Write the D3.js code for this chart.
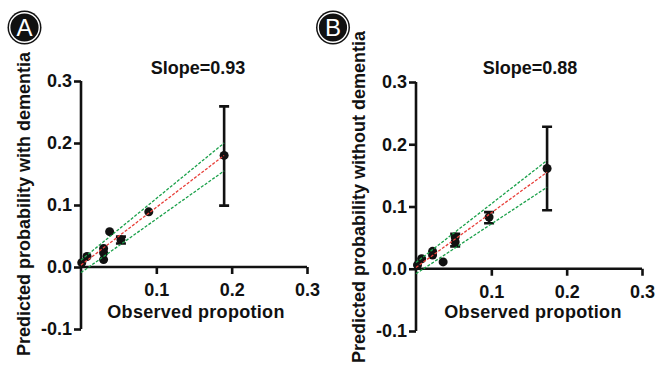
<!DOCTYPE html>
<html>
<head>
<meta charset="utf-8">
<script src="https://cdn.jsdelivr.net/npm/d3@7"></script>
<style>
  html, body { margin: 0; padding: 0; background: #fff; }
  svg { display: block; }
  text { font-family: Arial, "Liberation Sans", sans-serif; }
</style>
</head>
<body>
<svg id="chart" width="655" height="377"></svg>
<script>
// ---------------- data ----------------
const xTicks = [0.1, 0.2, 0.3];
const yTicks = [-0.1, 0.0, 0.1, 0.2, 0.3];

// Panel A: with dementia
const aObserved  = [0.001, 0.008, 0.030, 0.030, 0.030, 0.038, 0.053, 0.090, 0.190];
const aPredicted = [0.007, 0.017, 0.030, 0.023, 0.012, 0.057, 0.044, 0.089, 0.180];
const aLow       = [0.007, 0.017, 0.030, 0.023, 0.012, 0.057, 0.038, 0.089, 0.099];
const aHigh      = [0.007, 0.017, 0.030, 0.023, 0.012, 0.057, 0.049, 0.089, 0.259];
const aLineX     = [0, 0.19];
const aFit       = [0.003, 0.180];
const aUpper     = [0.011, 0.200];
const aLower     = [-0.009, 0.155];

// Panel B: without dementia
const bObserved  = [0.002, 0.0075, 0.022, 0.022, 0.036, 0.052, 0.052, 0.097, 0.174];
const bPredicted = [0.006, 0.016, 0.028, 0.022, 0.011, 0.051, 0.043, 0.083, 0.161];
const bLow       = [0.006, 0.016, 0.028, 0.022, 0.011, 0.036, 0.043, 0.073, 0.094];
const bHigh      = [0.006, 0.016, 0.028, 0.022, 0.011, 0.056, 0.043, 0.091, 0.228];
const bLineX     = [0, 0.174];
const bFit       = [0.002, 0.155];
const bUpper     = [0.010, 0.174];
const bLower     = [-0.008, 0.131];

// ---------------- drawing ----------------
const svg = d3.select("#chart");
const FONT = 18;

function panel(opt) {
  const x = d3.scaleLinear().domain([0, 0.3]).range([opt.x0, opt.x1]);
  const y = d3.scaleLinear().domain([-0.1, 0.3]).range([opt.yBottom, opt.yTop]);
  const g = svg.append("g");

  // axes
  const yAxis = d3.axisLeft(y).tickValues(yTicks).tickSize(7).tickPadding(2)
    .tickFormat(d => d.toFixed(1));
  const xAxis = d3.axisBottom(x).tickValues(xTicks).tickSize(7).tickPadding(9)
    .tickFormat(d => d.toFixed(1));

  const gy = g.append("g").attr("transform", `translate(${x(0)},0)`).call(yAxis);
  const gx = g.append("g").attr("transform", `translate(0,${y(0)})`).call(xAxis);
  [gx, gy].forEach(a => {
    a.select(".domain").attr("stroke", "#111").attr("stroke-width", 2.6);
    a.selectAll(".tick line").attr("stroke", "#111").attr("stroke-width", 2.6);
    a.selectAll(".tick text").attr("fill", "#111")
      .style("font-size", FONT + "px").style("font-weight", "bold")
      .style("font-family", "Arial, 'Liberation Sans', sans-serif");
  });
  gy.select(".domain").attr("d", `M0,${y(-0.1)}V${y(0.3)}`);
  gx.select(".domain").attr("d", `M${x(0)},0H${x(0.3)}`);

  // points
  const pts = opt.obs.map((o, i) => ({ o, p: opt.pred[i], lo: opt.lo[i], hi: opt.hi[i] }));
  const bars = pts.filter(d => d.hi > d.lo);
  g.selectAll(".eb").data(bars).join("path")
    .attr("d", d => `M${x(d.o)},${y(d.lo)}V${y(d.hi)}M${x(d.o)-5},${y(d.lo)}H${x(d.o)+5}M${x(d.o)-5},${y(d.hi)}H${x(d.o)+5}`)
    .attr("stroke", "#111").attr("stroke-width", 2.6).attr("fill", "none");
  g.selectAll(".pt").data(pts).join("circle")
    .attr("cx", d => x(d.o)).attr("cy", d => y(d.p)).attr("r", 4.5).attr("fill", "#111");

  // regression & CI lines
  const lines = [
    { v: opt.upper, c: "#19a049" },
    { v: opt.lower, c: "#19a049" },
    { v: opt.fit,   c: "#e8403a" }
  ];
  lines.forEach(l => {
    g.append("line")
      .attr("x1", x(opt.lineX[0])).attr("y1", y(l.v[0]))
      .attr("x2", x(opt.lineX[1])).attr("y2", y(l.v[1]))
      .attr("stroke", l.c).attr("stroke-width", 1.3)
      .attr("stroke-dasharray", "3,1.6");
  });

  // slope title
  g.append("text").attr("x", opt.slopeX).attr("y", 74).attr("text-anchor", "middle")
    .style("font-size", FONT + "px").style("font-weight", "bold").attr("fill", "#111")
    .text(opt.slope);

  // x title
  g.append("text").attr("x", opt.xTitleX).attr("y", 318).attr("text-anchor", "middle")
    .style("font-size", FONT + "px").style("font-weight", "bold").attr("fill", "#111")
    .attr("letter-spacing", 0.3)
    .text("Observed propotion");

  // y title
  g.append("text")
    .attr("transform", `translate(${opt.yTitleX},${opt.yTitleY}) rotate(-90)`)
    .attr("text-anchor", "middle")
    .style("font-size", FONT + "px").style("font-weight", "bold").attr("fill", "#111")
    .text(opt.yTitle);

  // badge
  const b = svg.append("g").attr("transform", `translate(${opt.badgeX},27.5)`);
  b.append("circle").attr("r", 17).attr("fill", "#111");
  b.append("circle").attr("r", 14.8).attr("fill", "#111").attr("stroke", "#fff").attr("stroke-width", 1.4);
  b.append("text").attr("text-anchor", "middle").attr("y", 8.5)
    .style("font-size", "24px").attr("fill", "#fff").text(opt.badge);
}

panel({
  x0: 81, x1: 307, yTop: 81, yBottom: 329,
  obs: aObserved, pred: aPredicted, lo: aLow, hi: aHigh,
  lineX: aLineX, fit: aFit, upper: aUpper, lower: aLower,
  slope: "Slope=0.93", slopeX: 198, xTitleX: 196,
  yTitle: "Predicted probability with dementia", yTitleX: 30, yTitleY: 204,
  badge: "A", badgeX: 24.5
});

panel({
  x0: 416, x1: 642, yTop: 82, yBottom: 331,
  obs: bObserved, pred: bPredicted, lo: bLow, hi: bHigh,
  lineX: bLineX, fit: bFit, upper: bUpper, lower: bLower,
  slope: "Slope=0.88", slopeX: 530, xTitleX: 533,
  yTitle: "Predicted probability without dementia", yTitleX: 365, yTitleY: 197,
  badge: "B", badgeX: 333
});
</script>
</body>
</html>
